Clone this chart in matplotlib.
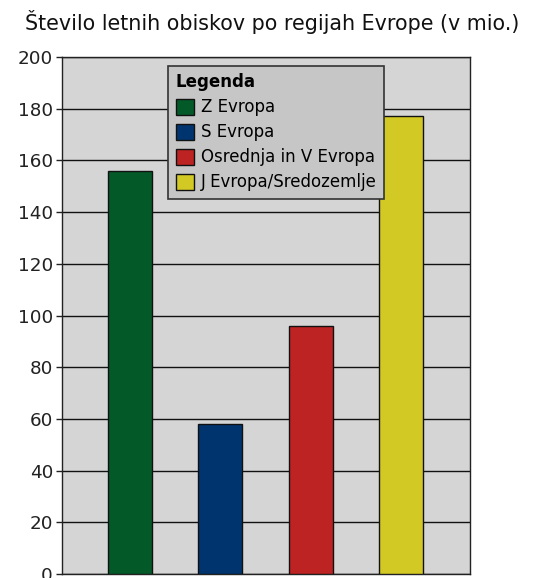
import numpy as np
import matplotlib.pyplot as plt

plt.rcParams['font.family'] = ['DejaVu Sans']

# data
regions = ["Z Evropa", "S Evropa", "Osrednja in V Evropa", "J Evropa/Sredozemlje"]
visits = [156, 58, 96, 177]
colors = ["#035a28", "#00346e", "#be2323", "#d3c925"]
yticks = [0, 20, 40, 60, 80, 100, 120, 140, 160, 180, 200]

fig = plt.figure(figsize=(5.45, 5.78), dpi=100)
ax = fig.add_axes([0.1138, 0.0069, 0.7482, 0.8945])
ax.set_facecolor("#d5d5d5")

x = np.arange(len(regions))
bars = ax.bar(x, visits, width=0.49, color=colors, edgecolor="#111111",
              linewidth=1.0, zorder=3, label=regions)

ax.set_xlim(-0.75, 3.76)
ax.set_ylim(0, 200)
ax.set_yticks(yticks)
ax.set_xticks([])
ax.yaxis.grid(True, color="#111111", linewidth=1.0, zorder=1)
ax.tick_params(axis="y", labelsize=13.2, colors="#222222", length=4, width=1, pad=2.5)
for s in ax.spines.values():
    s.set_color("#222222")
    s.set_linewidth(1.0)

fig.text(0.046, 0.962, "Število letnih obiskov po regijah Evrope (v mio.)",
         fontsize=14.9, color="#111111", ha="left", va="center")

leg = ax.legend(handles=list(bars), labels=regions, title="Legenda",
                loc="upper left", bbox_to_anchor=(0.26, 0.983), borderaxespad=0,
                fontsize=12, title_fontsize=12, frameon=True,
                fancybox=False, framealpha=1, edgecolor="#333333",
                facecolor="#c6c6c6", handlelength=1.1, handleheight=1.1,
                handletextpad=0.42, labelspacing=0.42, borderpad=0.45)
leg.get_title().set_fontweight("bold")
leg._legend_box.align = "left"
leg.get_frame().set_linewidth(1.2)

fig.savefig("out.png", dpi=100)
